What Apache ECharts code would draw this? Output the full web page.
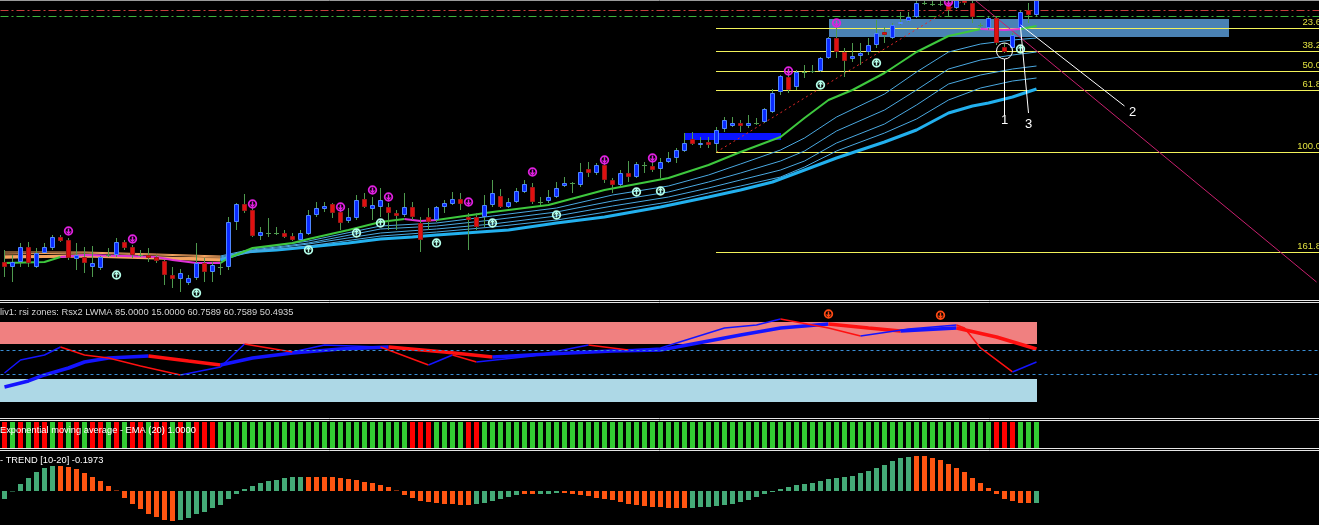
<!DOCTYPE html>
<html><head><meta charset="utf-8">
<script src="https://cdn.jsdelivr.net/npm/echarts@6/dist/echarts.min.js"></script>
<style>html,body{margin:0;padding:0;background:#000;overflow:hidden}#c{width:1319px;height:525px}</style>
</head><body><div id="c"></div>
<script>
// ---------- DATA (price units; main panel) ----------
// candles: [open, high, low, close] per bar
const candles = [
[38,50,23,33],[33,45,18,38],[38,57,33,53],[53,58,33,37],[33,52,32,47],[47,57,47,53],[52,65,50,63],[63,65,58,59],[60,62,40,42],[41,57,30,45],
[43,53,27,37],[33,54,23,37],[32,44,30,43],[45,52,43,45],[45,62,43,58],[58,60,50,52],[53,55,42,45],[45,50,43,45],[45,52,38,42],[43,45,37,39],
[39,40,15,25],[25,33,12,21],[21,31,8,27],[17,25,15,22],[22,57,20,37],[37,42,18,28],[28,38,18,35],[33,37,25,33],[33,83,30,78],[78,97,70,96],
[96,106,87,89],[90,92,63,64],[64,73,60,68],[67,82,63,67],[67,73,65,67],[67,70,62,63],[64,67,59,60],[60,70,59,67],[66,90,65,85],[85,98,83,92],
[91,98,88,94],[96,97,82,87],[88,93,70,77],[79,92,77,83],[82,105,80,100],[101,107,92,93],[91,103,80,95],[93,112,83,100],[93,97,70,87],[87,90,70,84],
[85,107,83,93],[93,98,80,83],[77,83,48,60],[83,92,70,78],[80,94,78,93],[93,100,87,97],[96,108,95,101],[101,107,90,96],[83,87,50,80],[83,87,70,73],
[83,105,73,95],[95,120,93,107],[104,111,92,93],[93,102,92,98],[98,112,97,109],[108,120,107,116],[113,117,96,98],[98,103,95,98],[99,110,97,103],[103,118,102,112],
[114,123,113,117],[117,118,107,117],[115,137,113,128],[131,138,123,127],[127,137,125,135],[135,143,117,120],[120,122,107,115],[115,130,113,127],[127,139,118,123],[123,138,122,136],
[135,138,127,135],[134,138,128,130],[131,142,122,138],[138,148,137,142],[142,152,137,150],[149,167,148,157],[161,168,155,156],[155,163,152,157],[158,163,152,155],[156,173,148,170],
[171,183,168,180],[174,183,173,177],[177,180,168,174],[174,185,172,177],[177,182,175,177],[178,192,177,191],[188,211,187,207],[208,225,205,224],[223,230,207,210],[213,230,210,228],
[228,235,222,228],[229,235,227,229],[229,243,228,242],[242,263,241,262],[262,280,242,248],[248,252,223,239],[241,257,238,244],[244,257,235,247],[248,262,245,255],[255,280,252,267],
[268,273,257,265],[262,277,261,275],[276,288,275,278],[279,288,278,283],[283,300,282,297],[297,300,295,297],[296,299,294,296],[296,300,294,296],[297,300,283,290],[292,302,291,300],
[302,305,295,297],[297,302,277,283],[275,277,273,275],[272,283,270,282],[282,283,255,257],[253,257,247,248],[252,267,250,265],[272,290,270,288],[290,297,277,285],[285,305,283,300]
];
// signal arrows [bar, price]
const sellArrows = [[8,69],[16,61],[31,96],[42,93],[46,110],[48,103],[58,98],[66,128],[75,140],[81,142],[98,229],[104,277],[118,298]];
const buyArrows = [[14,25],[24,7],[38,50],[44,67],[47,77],[54,57],[61,77],[69,85],[79,108],[82,109],[102,215],[109,237],[127,251]];
// moving-average fan: fast EMA (green), four middle lines, slow line (cyan)
const fastGreen = [[0,37],[5,38],[7,43]];
const fastMagentaL = [[7,43],[10,45],[15,44],[19,43],[21,40],[24,37],[27,37]];
const fastGreen2 = [[27,37],[28,42],[31,52],[36,57],[38,61],[43,70],[47,78],[50,81]];
const fastMagentaM = [[50,81],[52,79],[54,80]];
const fastGreen3 = [[54,80],[61,88],[68,95],[75,110],[83,122],[88,135],[92,148],[97,163],[100,182],[103,200],[106,210],[110,227],[114,248],[118,264],[122,271]];
const fastMagentaR = [[122,271],[125,270],[127,271]];
const fastGreen4 = [[127,271],[129,274]];
const fanLeft = [[0,48,46,44,42],[10,48,47,45,44],[19,46,45,43,42],[27,44,43,42,41]];
const fanRight = [[27,44,43,42,41],[31,51,50,49,48],[38,59,57,56,54],[47,74,71,67,64],[54,77,74,71,68],[61,84,80,76,73],[69,92,88,84,80],[76,105,99,94,89],[83,114,108,103,98],[88,125,118,112,107],[92,136,127,120,114],[97,150,139,130,123],[100,162,149,139,133],[104,183,169,157,149],[110,206,190,176,167],[114,228,210,195,181],[118,248,231,216,200],[122,256,240,225,212],[126,260,245,231,219],[129,262,248,234,222]];
const slowLeft = [[0,43],[10,44],[19,42],[27,40]];
const slowRight = [[27,40],[30,48],[34,50],[38,53],[43,57],[47,61],[51,63],[54,65],[63,70],[69,77],[75,83],[82,93],[88,103],[92,110],[96,118],[100,130],[104,142],[110,158],[114,170],[118,187],[121,194],[123,197],[126,203],[129,211]];
// Fibonacci retracement (drawn from bar 89)
const fibLabels = ['23.6','38.2','50.0','61.8','100.0','161.8'];
const fibPrices = [272,249,229,210,148,48];
const fibStartBar = 89;
// horizontal levels at top
const topRedLevel = 290, topGreenLevel = 284;
// boxes [barFrom, priceLow, barTo, priceHigh]
const steelBox = [103,263,153,281];
const blueBox = [85,160,97,167];
// drawn lines [[bar,price],[bar,price]]
const redDotted = [[89,148],[122,310]];
const pinkTrend = [[121,302],[164,18]];
const whiteLines = [[[125,241],[125,185]],[[127,275],[140,194]],[[127,273],[128,187]]];
const whiteLabels = [['1',125,180],['2',141,188],['3',128,176]];
const whiteCircle = [125,249];
// RSI panel
const rsiZoneHigh = [65,83.3], rsiZoneLow = [16.7,35.8], rsiLevels = [60,40];
const rsiFast = [
 ['b',[[0,40.8],[2,51.7],[5,55.8],[7,62.5]]],
 ['r',[[7,62.5],[10,55.8],[13,53.3],[17,46.7],[22,39.2]]],
 ['b',[[22,39.2],[27,45.8],[30,65]]],
 ['r',[[30,65],[36,58.3]]],
 ['b',[[36,58.3],[40,64.2],[47,62.5]]],
 ['r',[[47,62.5],[53,47.5]]],
 ['b',[[53,47.5],[56,55.8]]],
 ['r',[[56,55.8],[59,50]]],
 ['b',[[59,50],[66,55],[73,64.2]]],
 ['r',[[73,64.2],[78,60]]],
 ['b',[[78,60],[82,61.7],[90,78.3],[94,80.8],[97,85.8]]],
 ['r',[[97,85.8],[103,78.3],[107,71.7]]],
 ['b',[[107,71.7],[113,77.5],[119,80.8]]],
 ['r',[[119,80.8],[120,78.3],[122,61.7],[126,41.7]]],
 ['b',[[126,41.7],[129,50]]]
];
const rsiSlow = [
 ['b',[[0,29.2],[3,34.2],[5,39.2],[8,45],[10,50],[13,53.3],[18,55]]],
 ['r',[[18,55],[23,50.8],[27,47.5]]],
 ['b',[[27,47.5],[31,53.3],[36,57.5],[42,60.8],[48,62.5]]],
 ['r',[[48,62.5],[55,58.3],[61,54.2]]],
 ['b',[[61,54.2],[68,56.7],[76,59.2],[82,60],[92,72.5],[97,78.3],[103,81.7]]],
 ['r',[[103,81.7],[108,78.3],[112,75.8]]],
 ['b',[[112,75.8],[119,78.3]]],
 ['r',[[119,78.3],[124,70.8],[129,60.8]]]
];
const rsiArrows = [[103,90],[117,89]];
// EMA(20) colour bars: g = up, r = down
const emaState = ('rgrgrrgrgrgrrgrgrrgrrgrg' + 'rrr' + 'gggggggggggggggggggggggg' + 'rrr' + 'gggg' + 'rr' +
  'gggggggggggggggggggggggggggggggggggggggggggggggggggggggggggggggg' + 'rrr' + 'ggg').split('');
// TREND [10-20] histogram
const trendValues = [-8,-0.5,7,13,19,23,25,25,24,22,18,14,10,5,0.5,-7,-13,-18,-23,-26,
-29,-30,-29,-27,-23,-21,-17,-14,-8,-3,2,5,8,10,11,13,14,14,14,14,
14,14,13,12,11,9,8,6,4,0.5,-4,-7,-10,-11,-12,-13,-13,-14,-14,-13,
-12,-10,-8,-6,-4,-3,-3,-3,-3,-2,-2,-3,-4,-5,-7,-8,-9,-11,-13,-14,
-15,-16,-16,-17,-17,-17,-17,-16,-16,-15,-14,-13,-11,-9,-6,-3,-1,2,4,6,
7,8,10,12,13,14,15,18,20,23,26,30,33,34,35,35,33,31,27,23,
19,13,8,3,-3,-8,-10,-12,-12,-12];
const trendState = ('ggggggg' + 'ooooooooooooooo' + 'gggggggggggggggg' + 'ooooooooooooooooooooo' + 'gggggg' + 'oo' + 'ggg' +
  'oooooooooooooooo' + 'gggggggggggggggggggggggggggg' + 'ooooooooooooooo' + 'g').split('');
// texts
const rsiTitle = 'liv1: rsi zones: Rsx2 LWMA 85.0000 15.0000 60.7589 60.7589 50.4935';
const emaTitle = 'Exponential moving average - EMA (20) 1.0000';
const trendTitle = '- TREND [10-20] -0.1973';

// ---------- CHART ----------
const SLOTS = 165;
const cats = []; for (let i = 0; i < SLOTS; i++) cats.push(String(i));
const FONT = '"Liberation Sans", Arial, sans-serif';
const C = {
  bull:'#0b2bff', bullB:'#4f86ff', bear:'#e01010', bearB:'#a01818', wick:'#4e9a4e',
  sell:'#e020e0', buy:'#b4ffea', green:'#3ec83e', mag:'#e030d8', thin:'#4aa8e0', slow:'#22b0ee',
  orange:'#f4a460', fib:'#f2f25a', fibTxt:'#e0e040'
};
const grids = [
  {left:0.5, top:0, width:1320, height:300, outerBoundsMode:'none'},
  {left:0.5, top:302, width:1320, height:120, outerBoundsMode:'none'},
  {left:0.5, top:422, width:1320, height:26, outerBoundsMode:'none'},
  {left:0.5, top:451, width:1320, height:74, outerBoundsMode:'none'}
];
const xAxes = grids.map((g, k) => ({type:'category', gridIndex:k, data:cats, show:false, boundaryGap:true}));
const yAxes = [
  {type:'value', gridIndex:0, min:0, max:300, show:false},
  {type:'value', gridIndex:1, min:0, max:100, show:false},
  {type:'value', gridIndex:2, min:0, max:1, show:false},
  {type:'value', gridIndex:3, min:-34, max:40, show:false}
];
const series = [];
function lineSeries(grid, pts, color, width, z, extra) {
  series.push(Object.assign({type:'line', xAxisIndex:grid, yAxisIndex:grid, data:pts, symbol:'none',
    lineStyle:{color, width}, silent:true, z, animation:false}, extra || {}));
}
function segSeries(grid, segs, stroke, width, dash, z) {
  series.push({type:'custom', xAxisIndex:grid, yAxisIndex:grid, clip:true, z, silent:true,
    data: segs.map(s => [s[0][0], s[0][1], s[1][0], s[1][1]]),
    renderItem:(p, api) => {
      const a = api.coord([api.value(0), api.value(1)]), b = api.coord([api.value(2), api.value(3)]);
      return {type:'line', shape:{x1:a[0], y1:a[1], x2:b[0], y2:b[1]}, style:{stroke, lineWidth:width, lineDash:dash || null}};
    }});
}
function boxSeries(grid, boxes, fill, z, edge) {
  series.push({type:'custom', xAxisIndex:grid, yAxisIndex:grid, clip:true, z, silent:true,
    data: boxes,
    renderItem:(p, api) => {
      const a = api.coord([api.value(0), api.value(1)]), b = api.coord([api.value(2), api.value(3)]);
      let x1 = Math.min(a[0], b[0]), x2 = Math.max(a[0], b[0]);
      if (edge) { x1 -= 4.5; x2 += 0.5; }
      const y1 = Math.min(a[1], b[1]), y2 = Math.max(a[1], b[1]);
      return {type:'rect', shape:{x:Math.round(x1), y:Math.round(y1), width:Math.round(x2 - x1), height:Math.round(y2 - y1)}, style:{fill}};
    }});
}
function arrowSeries(grid, pts, color, dir, z) {
  series.push({type:'custom', xAxisIndex:grid, yAxisIndex:grid, clip:false, z, silent:true, data:pts,
    renderItem:(p, api) => {
      const c = api.coord([api.value(0), api.value(1)]);
      const x = Math.floor(c[0]) + 0.5, y = c[1];
      const tip = y + dir * 2.5, tail = y - dir * 2.5;
      return {type:'group', children:[
        {type:'circle', shape:{cx:x, cy:y, r:3.8}, style:{fill:'none', stroke:color, lineWidth:1.8}},
        {type:'line', shape:{x1:x, y1:tail, x2:x, y2:tip}, style:{stroke:color, lineWidth:1.5}},
        {type:'polyline', shape:{points:[[x - 2, tip - dir * 2], [x, tip], [x + 2, tip - dir * 2]]}, style:{stroke:color, fill:'none', lineWidth:1.2}}
      ]};
    }});
}

// boxes (behind)
boxSeries(0, [steelBox], '#4a82b4', 1);
boxSeries(0, [blueBox], '#0a14ff', 2);
// Fibonacci lines + labels
series.push({type:'custom', xAxisIndex:0, yAxisIndex:0, clip:false, z:3, silent:true,
  data: fibPrices.map((v, k) => [fibStartBar, v, k]),
  renderItem:(p, api) => {
    const a = api.coord([api.value(0), api.value(1)]);
    const y = Math.round(a[1]) + 0.5;
    const xr = api.coord([164, 0])[0] + 4.5;
    return {type:'group', children:[
      {type:'line', shape:{x1:Math.floor(a[0]), y1:y, x2:1330, y2:y}, style:{stroke:C.fib, lineWidth:1}},
      {type:'text', style:{x:xr, y:y - 1.5, text:fibLabels[api.value(2)], fill:C.fibTxt, font:'9.5px ' + FONT, align:'right', verticalAlign:'bottom'}}
    ]};
  }});
// moving-average fan
lineSeries(0, slowLeft, C.orange, 3, 4);
for (let k = 1; k <= 4; k++) lineSeries(0, fanLeft.map(r => [r[0], r[k]]), C.orange, 1, 4);
lineSeries(0, slowRight, C.slow, 3, 4);
for (let k = 1; k <= 4; k++) lineSeries(0, fanRight.map(r => [r[0], r[k]]), C.thin, 1, 4);
lineSeries(0, fastGreen, C.green, 2, 5, {markLine:{symbol:'none', silent:true, label:{show:false},
  data:[{yAxis:topRedLevel, lineStyle:{color:'#c83c3c', type:[8,3,2,3], width:1}}, {yAxis:topGreenLevel, lineStyle:{color:'#3cb43c', type:[8,3,2,3], width:1}}]}});
lineSeries(0, fastMagentaL, C.mag, 2, 5);
lineSeries(0, fastGreen2, C.green, 2, 5);
lineSeries(0, fastMagentaM, C.mag, 2, 5);
lineSeries(0, fastGreen3, C.green, 2, 5);
lineSeries(0, fastMagentaR, C.mag, 2, 5);
lineSeries(0, fastGreen4, C.green, 2, 5);
// trend lines
segSeries(0, [redDotted], '#e02828', 1, [2, 3], 5);
segSeries(0, [pinkTrend], '#c8206e', 1, null, 5);
// candles
series.push({type:'custom', xAxisIndex:0, yAxisIndex:0, clip:true, z:6, silent:true,
  data: candles.map((c, i) => [i, c[0], c[1], c[2], c[3]]),
  encode:{x:0, y:[1, 2, 3, 4]},
  renderItem:(p, api) => {
    const i = api.value(0), o = api.value(1), h = api.value(2), l = api.value(3), c = api.value(4);
    const po = api.coord([i, o]), pc = api.coord([i, c]), ph = api.coord([i, h]), pl = api.coord([i, l]);
    const x = Math.floor(po[0]) + 0.5;
    const ch = [{type:'line', shape:{x1:x, y1:ph[1], x2:x, y2:pl[1]}, style:{stroke:C.wick, lineWidth:1}}];
    if (o === c) {
      const y = Math.round(po[1]) + 0.5;
      ch.push({type:'line', shape:{x1:x - 2.5, y1:y, x2:x + 2.5, y2:y}, style:{stroke:C.wick, lineWidth:1}});
    } else {
      const bull = c > o;
      const top = Math.round(Math.min(po[1], pc[1])), bot = Math.round(Math.max(po[1], pc[1]));
      ch.push({type:'rect', shape:{x:x - 2, y:top + 0.5, width:4, height:Math.max(1, bot - top - 1)},
        style:{fill:bull ? C.bull : C.bear, stroke:bull ? C.bullB : C.bearB, lineWidth:1}});
    }
    return {type:'group', children:ch};
  }});
// signal arrows
arrowSeries(0, sellArrows, C.sell, 1, 7);
arrowSeries(0, buyArrows, C.buy, -1, 7);
// white annotations
segSeries(0, whiteLines, '#ffffff', 1, null, 8);
series.push({type:'custom', xAxisIndex:0, yAxisIndex:0, clip:false, z:8, silent:true,
  data: whiteLabels.map((t, k) => [t[1], t[2], k]),
  renderItem:(p, api) => {
    const a = api.coord([api.value(0), api.value(1)]);
    return {type:'text', style:{x:a[0], y:a[1], text:whiteLabels[api.value(2)][0], fill:'#ffffff', font:'13px ' + FONT, align:'center', verticalAlign:'middle'}};
  }});
series.push({type:'custom', xAxisIndex:0, yAxisIndex:0, clip:false, z:8, silent:true, data:[whiteCircle],
  renderItem:(p, api) => {
    const a = api.coord([api.value(0), api.value(1)]);
    return {type:'circle', shape:{cx:a[0], cy:a[1], r:8}, style:{fill:'none', stroke:'#ffffff', lineWidth:1}};
  }});

// RSI panel
boxSeries(1, [[0, rsiZoneHigh[0], 129, rsiZoneHigh[1]]], '#f08080', 1, true);
boxSeries(1, [[0, rsiZoneLow[0], 129, rsiZoneLow[1]]], '#add8e6', 1, true);
rsiSlow.forEach((s, k) => lineSeries(1, s[1], s[0] === 'b' ? '#1414ff' : '#ff1010', 3.5, 3,
  k === 0 ? {markLine:{symbol:'none', silent:true, label:{show:false},
    data: rsiLevels.map(v => ({yAxis:v})), lineStyle:{color:'#3a8fd6', type:[3, 3], width:1}}} : null));
rsiFast.forEach(s => lineSeries(1, s[1], s[0] === 'b' ? '#1414ff' : '#ff1010', 1.5, 4));
arrowSeries(1, rsiArrows, '#ff4a14', 1, 5);

// EMA colour bars
series.push({type:'bar', xAxisIndex:2, yAxisIndex:2, barWidth:5, silent:true, animation:false,
  data: emaState.map(s => ({value:1, itemStyle:{color: s === 'g' ? '#33cc33' : '#ff0000'}}))});
// TREND histogram
series.push({type:'bar', xAxisIndex:3, yAxisIndex:3, barWidth:5, silent:true, animation:false,
  data: trendValues.map((v, i) => ({value:v, itemStyle:{color: trendState[i] === 'g' ? '#44aa77' : '#ff5511'}}))});
boxSeries(3, [[0, -0.15, 129, 0.15]], '#ffffff', 5, true);

const sepY = [300.5, 302.5, 418.5, 420.5, 448.5, 450.5];
const graphic = sepY.map(y => ({type:'line', shape:{x1:0, y1:y, x2:1319, y2:y}, style:{stroke:'#e6e6e6', lineWidth:1}, z:100}));
graphic.push({type:'line', shape:{x1:0, y1:0.5, x2:1319, y2:0.5}, style:{stroke:'#9a9a9a', lineWidth:1}, z:100});
graphic.push({type:'text', x:0, y:312, z:100, style:{text:rsiTitle, fill:'#d4d4d4', font:'9.3px ' + FONT, verticalAlign:'middle'}});
graphic.push({type:'text', x:0, y:430, z:100, style:{text:emaTitle, fill:'#ffffff', font:'9.3px ' + FONT, verticalAlign:'middle'}});
graphic.push({type:'text', x:0, y:460, z:100, style:{text:trendTitle, fill:'#ffffff', font:'9.3px ' + FONT, verticalAlign:'middle'}});

const chart = echarts.init(document.getElementById('c'), null, {renderer:'canvas'});
chart.setOption({backgroundColor:'#000000', animation:false, grid:grids, xAxis:xAxes, yAxis:yAxes, series, graphic});
</script></body></html>
